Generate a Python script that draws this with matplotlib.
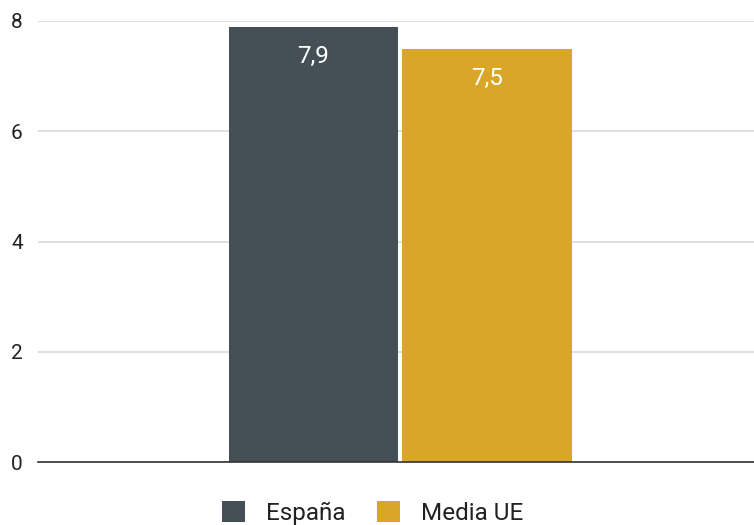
import matplotlib.pyplot as plt
from matplotlib.patches import Patch

plt.rcParams['font.family'] = ['Roboto', 'DejaVu Sans']

series = ['España', 'Media UE']
values = [7.9, 7.5]
labels = ['7,9', '7,5']
colors = ['#455056', '#d9a628']
yticks = [0, 2, 4, 6, 8]

fig = plt.figure(figsize=(7.54, 5.25), dpi=100)
ax = fig.add_axes([0.0504, 0.12, 0.9496, 0.84])

xs = list(range(len(values)))
bars = ax.bar(xs, values, width=0.975, color=colors, zorder=3)
for b, lab in zip(bars, labels):
    ax.annotate(lab, (b.get_x() + b.get_width() / 2, b.get_height()),
                xytext=(0, -21.5), textcoords='offset points',
                ha='center', va='center', color='white', fontsize=17.5,
                zorder=4)

ax.set_xlim(-1.588, 2.539)
ax.set_ylim(0, 8)
ax.set_yticks(yticks)
ax.set_yticklabels([str(t) for t in yticks], fontsize=15, color='#222222')
ax.set_xticks([])
ax.tick_params(axis='y', length=0, pad=11)
ax.grid(axis='y', color='#d9d9d9', linewidth=1.2, zorder=0)
for s in ['top', 'right', 'left']:
    ax.spines[s].set_visible(False)
ax.spines['bottom'].set_color('#333333')
ax.spines['bottom'].set_linewidth(1.2)
ax.spines['bottom'].set_zorder(5)

handles = [Patch(facecolor=c, label=s) for c, s in zip(colors, series)]
fig.legend(handles=handles, loc='center', bbox_to_anchor=(0.494, 0.023), ncol=2,
           frameon=False, fontsize=17.5, handlelength=0.95, handleheight=0.95,
           handletextpad=0.85, columnspacing=1.3, labelcolor='#222222',
           borderpad=0.1)

fig.savefig('out.png', dpi=100)
